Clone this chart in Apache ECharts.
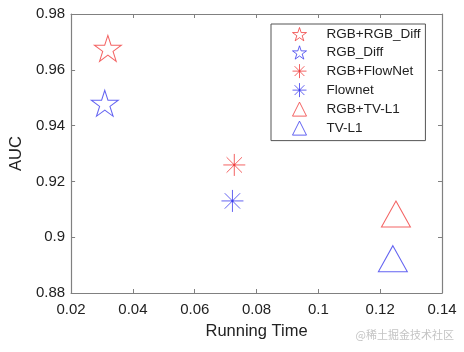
<!DOCTYPE html>
<html>
<head>
<meta charset="utf-8">
<script src="https://cdn.jsdelivr.net/npm/echarts@6/dist/echarts.min.js"></script>
<style>
  html, body { margin: 0; padding: 0; background: #fff; }
  #chart { width: 464px; height: 352px; }
</style>
</head>
<body>
<div id="chart"></div>
<script>
// data
const seriesNames = ['RGB+RGB_Diff', 'RGB_Diff', 'RGB+FlowNet', 'Flownet', 'RGB+TV-L1', 'TV-L1'];
const runningTime = [0.0319, 0.0309, 0.0728, 0.0722, 0.1251, 0.1241];
const aucValues = [0.9677, 0.948, 0.9259, 0.913, 0.9083, 0.8923];
const xTicks = [0.02, 0.04, 0.06, 0.08, 0.1, 0.12, 0.14];
const yTicks = [0.88, 0.9, 0.92, 0.94, 0.96, 0.98];

const RED = '#f03c3c';
const BLUE = '#3c3cee';
const AXIS = '#808080';
const FONT = 'Liberation Sans, Arial, sans-serif';

const STAR = 'path://M0,-50L11.2,-15.5L47.6,-15.5L18.2,5.9L29.4,40.5L0,19.1L-29.4,40.5L-18.2,5.9L-47.6,-15.5L-11.2,-15.5Z';
const ASTERISK = 'path://M0,-10L0,10M-10,0L10,0M-7,-7L7,7M-7,7L7,-7M-0.6,-0.6L0.6,-0.6L0.6,0.6L-0.6,0.6Z';

const markers = [
  { symbol: STAR, size: [27, 26], color: RED },
  { symbol: STAR, size: [27, 26], color: BLUE },
  { symbol: ASTERISK, size: [22, 22], color: RED },
  { symbol: ASTERISK, size: [22, 22], color: BLUE },
  { symbol: 'triangle', size: [29, 26], color: RED },
  { symbol: 'triangle', size: [29, 26], color: BLUE }
];

const fmt = (v) => String(parseFloat(v.toFixed(2)));

const chart = echarts.init(document.getElementById('chart'), null, { renderer: 'canvas' });

const baseAxis = {
  type: 'value',
  interval: 0.02,
  axisLine: { show: true, onZero: false, lineStyle: { color: AXIS, width: 1.2 } },
  axisTick: { show: true, inside: true, length: 4, lineStyle: { color: AXIS } },
  splitLine: { show: false },
  axisLabel: { fontFamily: FONT, fontSize: 15, color: '#222', formatter: fmt }
};

const options = {
  animation: false,
  grid: { left: 67, right: 22, top: 14, bottom: 59, containLabel: false },
  xAxis: [
    Object.assign({}, baseAxis, {
      min: xTicks[0], max: xTicks[xTicks.length - 1],
      position: 'bottom',
      axisLabel: Object.assign({}, baseAxis.axisLabel, { margin: 9 }),
      name: 'Running Time', nameLocation: 'middle', nameGap: 30,
      nameTextStyle: { fontFamily: FONT, fontSize: 16.5, color: '#222' }
    }),
    Object.assign({}, baseAxis, {
      min: xTicks[0], max: xTicks[xTicks.length - 1],
      position: 'top',
      axisLabel: { show: false }
    })
  ],
  yAxis: [
    Object.assign({}, baseAxis, {
      min: yTicks[0], max: yTicks[yTicks.length - 1],
      position: 'left',
      axisLabel: Object.assign({}, baseAxis.axisLabel, { margin: 6 }),
      name: 'AUC', nameLocation: 'middle', nameGap: 42,
      nameTextStyle: { fontFamily: FONT, fontSize: 16.5, color: '#222' }
    }),
    Object.assign({}, baseAxis, {
      min: yTicks[0], max: yTicks[yTicks.length - 1],
      position: 'right',
      axisLabel: { show: false }
    })
  ],
  legend: {
    orient: 'vertical',
    left: 271,
    top: 24,
    padding: [3, 5, 5, 21],
    itemWidth: 14,
    itemHeight: 14,
    itemGap: 4,
    borderColor: '#555',
    borderWidth: 1,
    backgroundColor: '#fff',
    itemStyle: { borderWidth: 1 },
    formatter: (name) => '{t|' + name + '}',
    textStyle: {
      fontFamily: FONT, fontSize: 13.5, color: '#222', lineHeight: 14,
      rich: { t: { fontFamily: FONT, fontSize: 13.5, color: '#222', lineHeight: 14, padding: [0, 0, 0, 15] } }
    },
    data: seriesNames
  },
  series: seriesNames.map((name, i) => ({
    name: name,
    type: 'scatter',
    symbol: markers[i].symbol,
    symbolSize: markers[i].size,
    itemStyle: { color: 'rgba(0,0,0,0)', borderColor: markers[i].color, borderWidth: 1 },
    emphasis: { disabled: true },
    data: [[runningTime[i], aucValues[i]]]
  })),
  graphic: [{
    type: 'text',
    right: 10,
    top: 329,
    style: {
      text: '@稀土掘金技术社区',
      font: '11px "Noto Sans CJK SC", sans-serif',
      fill: '#c4c4c4'
    }
  }]
};

chart.setOption(options);
</script>
</body>
</html>
